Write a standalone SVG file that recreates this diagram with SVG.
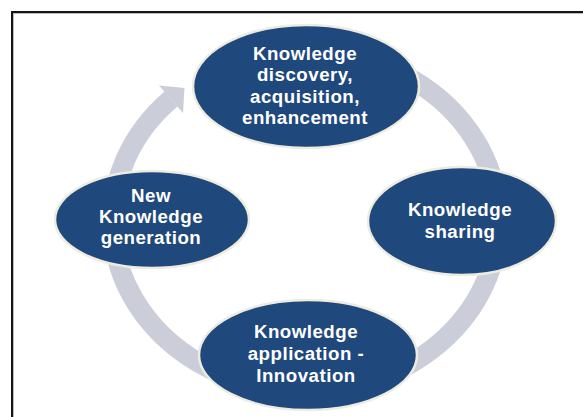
<svg xmlns="http://www.w3.org/2000/svg" width="583" height="417" viewBox="0 0 583 417">
  <style>
    .node { fill: #1f487c; stroke: #eeece1; stroke-width: 2.5; }
    .label { font-family: "Liberation Sans", Arial, sans-serif; font-weight: bold; font-size: 18.7px; letter-spacing: 0.5px; fill: #ffffff; text-anchor: middle; }
    .ring { fill: none; stroke: #cbcdd8; stroke-width: 20; }
    .head { fill: #cbcdd8; }
  </style>
  <rect width="583" height="417" fill="#ffffff"/>
  <!-- frame -->
  <path d="M13 417 V13 H583" fill="none" stroke="#a8a8a8" stroke-width="1.5"/>
  <path d="M12 417 V12 H583" fill="none" stroke="#151515" stroke-width="2"/>

  <!-- cycle arrow -->
  <g id="connectors">
    <path class="ring" d="M338.5 53.6 A193 170 0 1 1 171 99"/>
    <polygon class="head" points="184.5,88 183,113 159,85.5"/>
  </g>

  <g id="node-discovery">
    <ellipse class="node" cx="306" cy="86.5" rx="113" ry="61.5"/>
    <text class="label" x="305" y="59.5">Knowledge</text>
    <text class="label" x="305" y="81">discovery,</text>
    <text class="label" x="305" y="102.5">acquisition,</text>
    <text class="label" x="305" y="124">enhancement</text>
  </g>

  <g id="node-sharing">
    <ellipse class="node" cx="462" cy="221" rx="94" ry="54"/>
    <text class="label" x="460" y="216">Knowledge</text>
    <text class="label" x="460" y="238">sharing</text>
  </g>

  <g id="node-application">
    <ellipse class="node" cx="308" cy="355" rx="109" ry="55"/>
    <text class="label" x="306" y="338">Knowledge</text>
    <text class="label" x="306" y="360">application -</text>
    <text class="label" x="306" y="382">Innovation</text>
  </g>

  <g id="node-generation">
    <ellipse class="node" cx="152" cy="219.5" rx="97" ry="48.5"/>
    <text class="label" x="151" y="202">New</text>
    <text class="label" x="151" y="223">Knowledge</text>
    <text class="label" x="151" y="244">generation</text>
  </g>
</svg>
